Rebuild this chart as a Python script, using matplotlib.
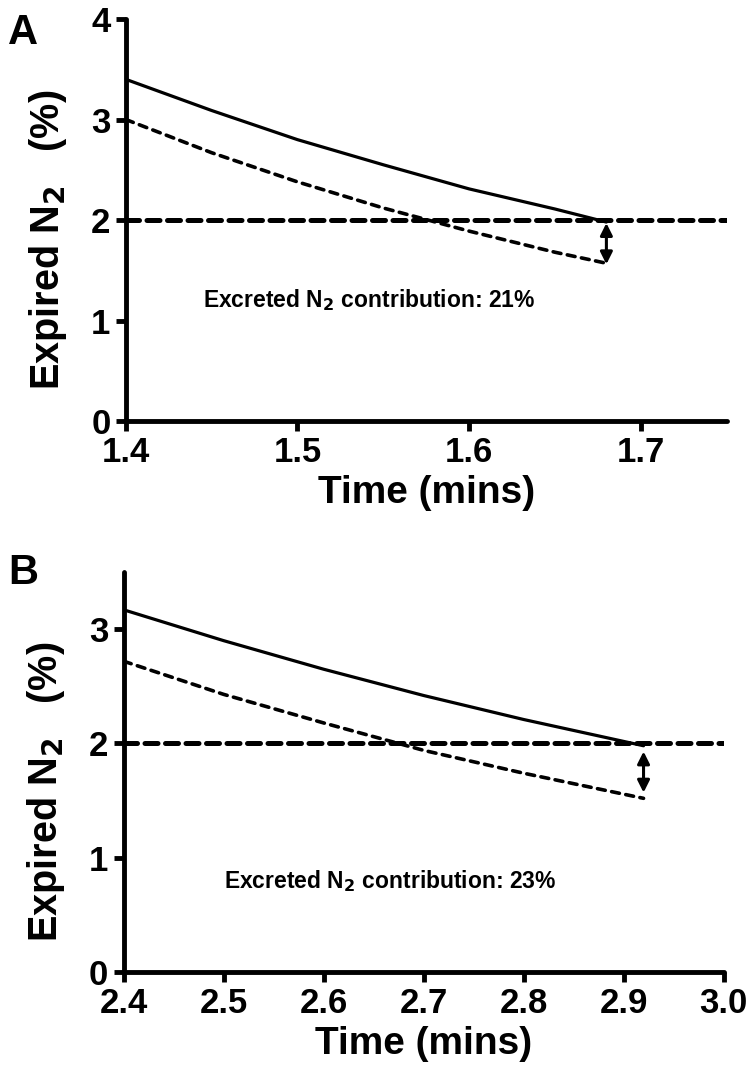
import numpy as np
import matplotlib
matplotlib.use("Agg")
import matplotlib.pyplot as plt

plt.rcParams['font.family'] = ['Liberation Sans', 'DejaVu Sans']
plt.rcParams['font.weight'] = 'bold'
plt.rcParams['mathtext.default'] = 'bf'

# panel A data
a_time = [1.40, 1.45, 1.50, 1.55, 1.60, 1.65, 1.68]
a_measured = [3.40, 3.09, 2.80, 2.55, 2.31, 2.11, 1.98]
a_excreted_free = [3.00, 2.67, 2.38, 2.12, 1.89, 1.68, 1.57]
a_level = 2.0
a_arrow = [1.68, 1.97, 1.56]
a_text = "Excreted N$_2$ contribution: 21%"
a_xticks = [1.4, 1.5, 1.6, 1.7]
a_yticks = [0, 1, 2, 3, 4]

# panel B data
b_time = [2.40, 2.50, 2.60, 2.70, 2.80, 2.92]
b_measured = [3.17, 2.90, 2.65, 2.42, 2.21, 1.98]
b_excreted_free = [2.72, 2.43, 2.18, 1.94, 1.74, 1.52]
b_level = 2.0
b_arrow = [2.92, 1.93, 1.57]
b_text = "Excreted N$_2$ contribution: 23%"
b_xticks = [2.4, 2.5, 2.6, 2.7, 2.8, 2.9, 3.0]
b_yticks = [0, 1, 2, 3]

fig = plt.figure(figsize=(7.49, 10.88), dpi=100)


def panel(rect, t, meas, free, level, arrow, text, text_xy, xticks, yticks, xlim, ylim, letter, letter_y):
    ax = fig.add_axes(rect)
    ax.plot(t, meas, color='black', lw=2.3, solid_capstyle='round')
    ax.plot(t, free, color='black', lw=2.6, dashes=(2.2, 1.8), dash_capstyle='round')
    ax.axhline(level, color='black', lw=3.6, dashes=(2.6, 1.5), dash_capstyle='round')
    ax.annotate('', xy=(arrow[0], arrow[2]), xytext=(arrow[0], arrow[1]),
                arrowprops=dict(arrowstyle='<|-|>', color='black', lw=2.2,
                                mutation_scale=18, shrinkA=0, shrinkB=0))
    ax.text(text_xy[0], text_xy[1], text, fontsize=16.5, fontweight='bold', va='center')
    ax.set_xlim(xlim)
    ax.set_ylim(ylim)
    ax.set_xticks(xticks)
    ax.set_xticklabels(['%.1f' % v for v in xticks])
    ax.set_yticks(yticks)
    for s in ['top', 'right']:
        ax.spines[s].set_visible(False)
    for s in ['left', 'bottom']:
        ax.spines[s].set_linewidth(3.5)
        ax.spines[s].set_capstyle('round')
    ax.tick_params(width=3.5, length=7, labelsize=25, pad=4)
    ax.set_xlabel('Time (mins)', fontsize=28, fontweight='bold', labelpad=4)
    ax.set_ylabel('Expired N$_2$   (%)', fontsize=28.5, fontweight='bold', labelpad=16)
    ax.yaxis.label.set_y(0.45)
    fig.text(0.011, letter_y, letter, fontsize=30, fontweight='bold', va='top')
    return ax


panel([0.168, 0.613, 0.802, 0.3695], a_time, a_measured, a_excreted_free, a_level, a_arrow,
      a_text, (1.445, 1.2), a_xticks, a_yticks, (1.4, 1.75), (0, 4), 'A', 0.988)
panel([0.165, 0.1066, 0.801, 0.3676], b_time, b_measured, b_excreted_free, b_level, b_arrow,
      b_text, (2.5, 0.8), b_xticks, b_yticks, (2.4, 3.0), (0, 3.5), 'B', 0.492)

fig.savefig('out.png', dpi=100)
